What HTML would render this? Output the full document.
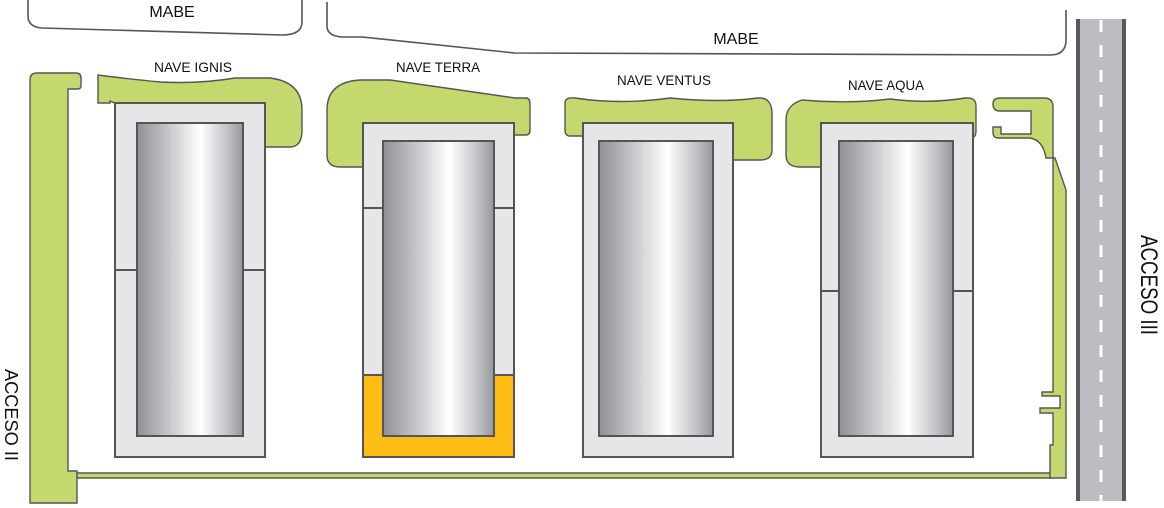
<!DOCTYPE html>
<html><head><meta charset="utf-8"><style>
html,body{margin:0;padding:0;background:#fff;}
svg{display:block}
text{font-family:"Liberation Sans",sans-serif;fill:#111;}
</style></head><body>
<svg width="1164" height="508" viewBox="0 0 1164 508" xmlns="http://www.w3.org/2000/svg">
<defs>
<linearGradient id="g" x1="0" x2="1" y1="0" y2="0">
<stop offset="0" stop-color="#8f9095"/>
<stop offset="0.35" stop-color="#cfd0d3"/>
<stop offset="0.6" stop-color="#ffffff"/>
<stop offset="0.85" stop-color="#c2c3c7"/>
<stop offset="1" stop-color="#96979c"/>
</linearGradient>
</defs>
<g fill="none" stroke="#555" stroke-width="1.6">
<path d="M28 0 V16 Q28 27 42 28 L282 35 Q302 35 302 22 V0"/>
<path d="M327 2 V26 Q327 36 342 37 L362 37 L515 53 L1050 55 Q1066 55 1066 40 V10"/>
</g>
<text x="172" y="17" font-size="16" text-anchor="middle">MABE</text>
<text x="736" y="44" font-size="16" text-anchor="middle">MABE</text>

<!-- road -->
<rect x="1076" y="19" width="50" height="482" fill="#bcbdc0"/>
<rect x="1076" y="19" width="4" height="482" fill="#58595b"/>
<rect x="1122" y="19" width="4" height="482" fill="#58595b"/>
<line x1="1101" y1="20" x2="1101" y2="501" stroke="#fff" stroke-width="3" stroke-dasharray="12,13"/>

<g fill="#c4d96d" stroke="#555" stroke-width="1.4">
<!-- left strip -->
<path d="M30 80 Q30 73 37 73 L76 73 Q81 73 81 78 V86 Q81 89 77 89 L68 89 V471 L77 471 V503 L30 503 Z"/>
<!-- bottom strip -->
<path d="M77 473 H1050 V478 H77 Z"/>
<!-- right strip -->
<path d="M1053 158 L1055 158 L1066 190 V478 H1050 V445 H1053 V413 H1040 V408 H1060 V396 H1042 V392 H1053 Z"/>
<!-- right piece -->
<path d="M993 104 Q993 98 1000 98 L1044 98 Q1053 98 1053 107 V158 L1046 158 Q1043 140 1030 138 L998 138 Q993 138 993 132 V127 L1001 127 V134 L1031 134 V111 L1000 111 Q993 111 993 104 Z"/>
<!-- Ignis cap -->
<path d="M98 79 L98 103 L110 103 L110 101 L115 103 L265 103 L265 147 L290 147 Q302 147 302 130 L302 110 Q302 82 270 78 L235 78 Q200 84 160 82 Q120 78 98 75 Z"/>
<!-- Terra cap -->
<path d="M327 110 Q327 82 360 80 L390 80 L515 98 L526 98 Q530 98 530 104 V130 Q530 135 526 135 L514 135 V123 L363 123 V167 L340 167 Q327 167 327 155 Z"/>
<!-- Ventus cap -->
<path d="M565 102 Q566 97 575 98 Q620 105 670 98 Q720 103 758 98 Q771 97 772 112 V150 Q772 160 760 160 L733 160 V123 L583 123 V136 L570 136 Q565 136 565 130 Z"/>
<!-- Aqua cap -->
<path d="M786 120 Q786 105 802 100 Q850 104 890 99 Q930 104 965 98 Q976 97 976 106 V130 Q976 137 973 137 V123 L821 123 V167 L800 167 Q786 167 786 155 Z"/>
</g>

<!-- buildings -->
<g stroke="#555" stroke-width="2">
<rect x="115" y="103" width="150" height="354" fill="#e6e6e8"/>
<line x1="115" y1="270" x2="265" y2="270"/>
<rect x="137" y="123" width="106" height="313" fill="url(#g)"/>

<rect x="363" y="123" width="151" height="334" fill="#e6e6e8"/>
<rect x="363" y="375" width="151" height="82" fill="#fdbd14"/>
<line x1="363" y1="208" x2="514" y2="208"/>
<rect x="383" y="141" width="111" height="295" fill="url(#g)"/>

<rect x="583" y="123" width="150" height="334" fill="#e6e6e8"/>
<rect x="599" y="141" width="114" height="295" fill="url(#g)"/>

<rect x="821" y="123" width="152" height="334" fill="#e6e6e8"/>
<line x1="821" y1="291" x2="973" y2="291"/>
<rect x="839" y="141" width="114" height="295" fill="url(#g)"/>
</g>

<text x="193" y="72" font-size="14" text-anchor="middle" textLength="78" lengthAdjust="spacingAndGlyphs">NAVE IGNIS</text>
<text x="438" y="72" font-size="14" text-anchor="middle" textLength="84" lengthAdjust="spacingAndGlyphs">NAVE TERRA</text>
<text x="664" y="85" font-size="14" text-anchor="middle" textLength="94" lengthAdjust="spacingAndGlyphs">NAVE VENTUS</text>
<text x="886" y="90" font-size="14" text-anchor="middle" textLength="76" lengthAdjust="spacingAndGlyphs">NAVE AQUA</text>
<text transform="translate(5,415) rotate(90)" font-size="18" text-anchor="middle" textLength="92" lengthAdjust="spacingAndGlyphs">ACCESO II</text>
<text transform="translate(1141,285) rotate(90)" font-size="24" text-anchor="middle" textLength="100" lengthAdjust="spacingAndGlyphs">ACCESO III</text>
</svg>
</body></html>
